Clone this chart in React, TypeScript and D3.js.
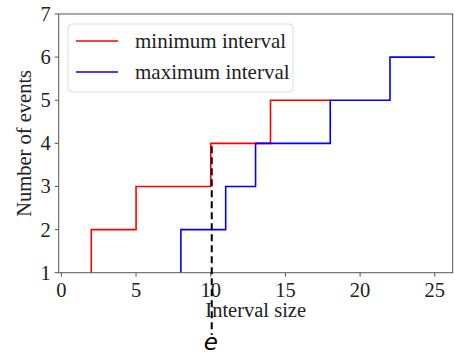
import React from "react";
import * as d3 from "d3";

const minX = [2, 5, 10, 14, 18];
const minY = [2, 3, 4, 5, 5];
const maxX = [8, 11, 13, 18, 22, 25];
const maxY = [2, 3, 4, 5, 6, 6];
const xTicks = [0, 5, 10, 15, 20, 25];
const yTicks = [1, 2, 3, 4, 5, 6, 7];
const markerX = 10;
const markerTopY = 4;
const legendLabels = ["minimum interval", "maximum interval"];
const colors = ["#ff0000", "#0000ff"];

const W = 455, H = 355;
const L = 58.7, R = 452.7, T = 14, B = 272.7;

export default function App() {
  const x = d3.scaleLinear().domain([-0.18, 26.2]).range([L, R]);
  const y = d3.scaleLinear().domain([1, 7]).range([B, T]);

  const stepPath = (xs: number[], ys: number[]) => {
    const pts: [number, number][] = [[xs[0], 1]];
    for (let i = 0; i < xs.length; i++) {
      pts.push([xs[i], ys[i]]);
    }
    const line = d3.line<[number, number]>().x(d => x(d[0])).y(d => y(d[1])).curve(d3.curveStepAfter);
    return line(pts) || "";
  };

  const font = "'Liberation Serif', 'DejaVu Serif', serif";

  return (
    <svg width={W} height={H} style={{ position: "absolute", left: 0, top: 0 }}>
      <rect x={0} y={0} width={W} height={H} fill="#fff" />
      <path d={stepPath(minX, minY)} fill="none" stroke={colors[0]} strokeWidth={1.6} />
      <path d={stepPath(maxX, maxY)} fill="none" stroke={colors[1]} strokeWidth={1.6} />
      <rect x={L} y={T} width={R - L} height={B - T} fill="none" stroke="#555" strokeWidth={1} />
      {xTicks.map(t => (
        <g key={"x" + t}>
          <line x1={x(t)} x2={x(t)} y1={B} y2={B + 4} stroke="#555" strokeWidth={1} />
          <text x={x(t)} y={B + 24} textAnchor="middle" fontFamily={font} fontSize={20.5} fill="#222">{t}</text>
        </g>
      ))}
      {yTicks.map(t => (
        <g key={"y" + t}>
          <line x1={L - 4} x2={L} y1={y(t)} y2={y(t)} stroke="#555" strokeWidth={1} />
          <text x={L - 8} y={y(t) + 7} textAnchor="end" fontFamily={font} fontSize={20.5} fill="#222">{t}</text>
        </g>
      ))}
      <text x={(L + R) / 2} y={317} textAnchor="middle" fontFamily={font} fontSize={20.5} fill="#222">Interval size</text>
      <text transform={`translate(31,${(T + B) / 2}) rotate(-90)`} textAnchor="middle" fontFamily={font} fontSize={20.5} fill="#222">Number of events</text>
      <rect x={68} y={24} width={225} height={68} rx={4} fill="#fff" fillOpacity={0.8} stroke="#ddd" strokeWidth={1} />
      {legendLabels.map((lab, i) => (
        <g key={lab}>
          <line x1={76} x2={118} y1={41 + i * 31} y2={41 + i * 31} stroke={colors[i]} strokeWidth={1.6} />
          <text x={135} y={48 + i * 31} fontFamily={font} fontSize={21} fill="#222">{lab}</text>
        </g>
      ))}
      <line x1={x(markerX) + 1} x2={x(markerX) + 1} y1={y(markerTopY) + 3} y2={335} stroke="#000" strokeWidth={2} strokeDasharray="7,4" />
      <text x={x(markerX)} y={350} textAnchor="middle" fontFamily="'DejaVu Sans', sans-serif" fontStyle="italic" fontSize={23} fill="#000">e</text>
    </svg>
  );
}
